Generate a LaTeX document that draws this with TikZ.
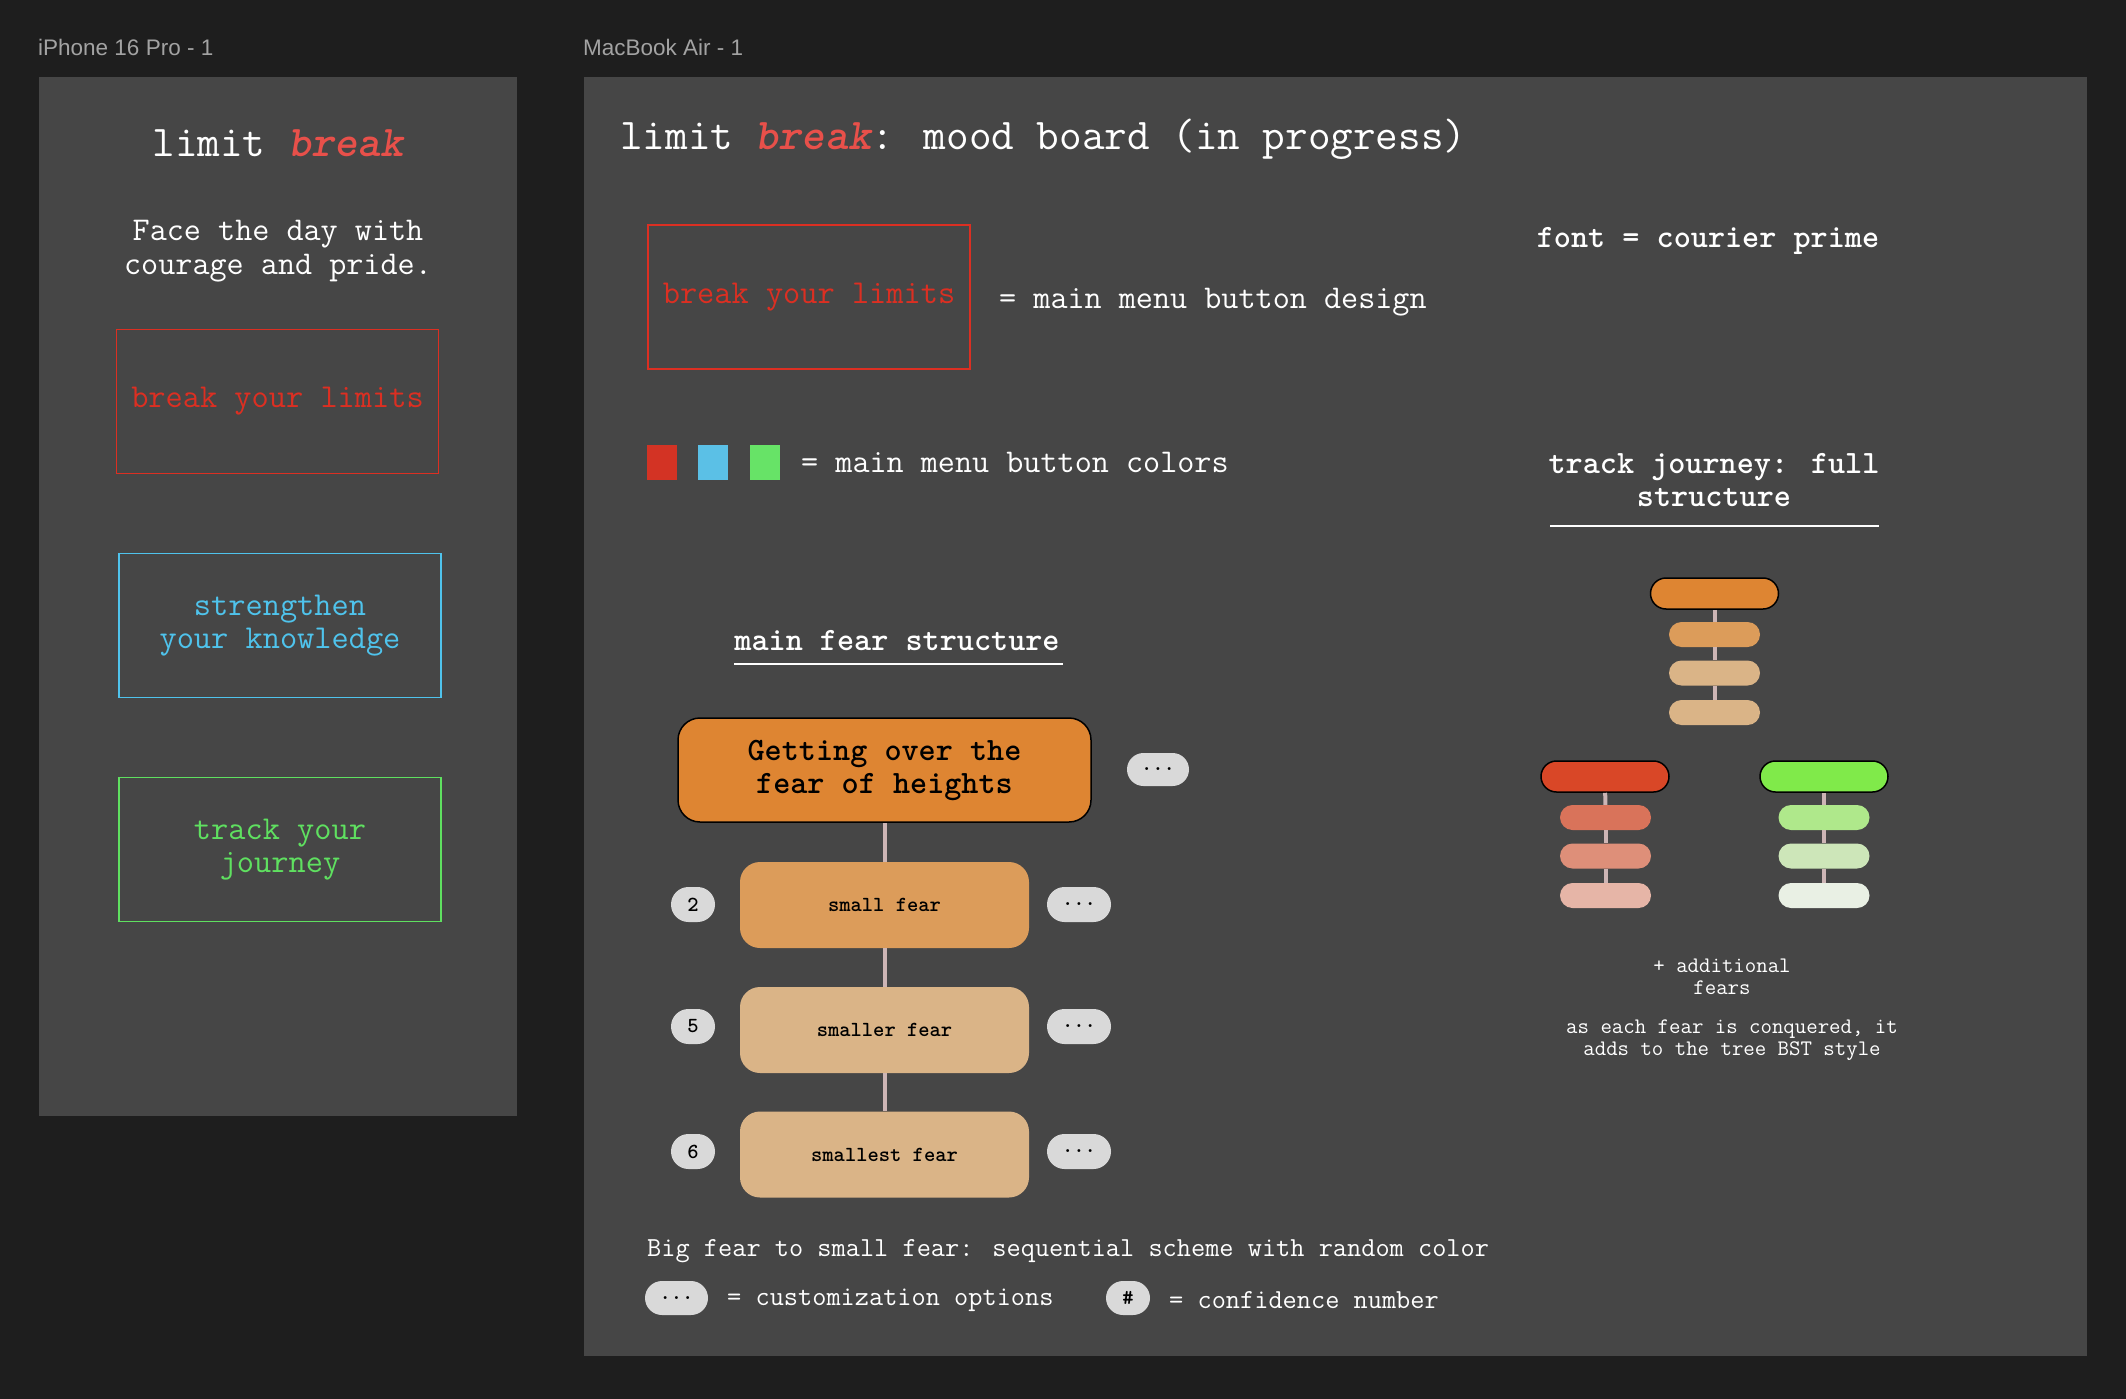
\documentclass[tikz,border=0pt]{standalone}
\usepackage{fontspec}
\newfontfamily\uifont{Liberation Sans}
\newfontfamily\breakfont{lmmonolt10-boldoblique.otf}
\renewcommand{\familydefault}{\ttdefault}
\usetikzlibrary{positioning,shapes.misc}

\definecolor{canvas}{HTML}{1E1E1E}
\definecolor{board}{HTML}{464646}
\definecolor{labelgray}{HTML}{A3A3A3}
\definecolor{breakred}{HTML}{E8504A}
\definecolor{btnred}{HTML}{DC2F22}
\definecolor{btnblue}{HTML}{4FC3EC}
\definecolor{btngreen}{HTML}{5FE060}
\definecolor{swatchred}{HTML}{D33324}
\definecolor{swatchblue}{HTML}{5BC0E6}
\definecolor{swatchgreen}{HTML}{67E367}
\definecolor{fearA}{HTML}{DE8532}
\definecolor{fearB}{HTML}{DC9C5A}
\definecolor{fearC}{HTML}{DAB487}
\definecolor{pillgray}{HTML}{D9D9D9}
\definecolor{linkpink}{HTML}{CDB5B5}
\definecolor{redA}{HTML}{D94727}
\definecolor{redB}{HTML}{D9735A}
\definecolor{redC}{HTML}{DE8F79}
\definecolor{redD}{HTML}{E6B5A7}
\definecolor{greenA}{HTML}{80EA4A}
\definecolor{greenB}{HTML}{AFE88B}
\definecolor{greenC}{HTML}{CDE6B9}
\definecolor{greenD}{HTML}{E9F0E4}

\newcommand{\breakword}{\textcolor{breakred}{\breakfont break}}

\begin{document}
\begin{tikzpicture}[x=1pt,y=-1pt,
    every node/.style={inner sep=0pt,text=white},
    bigtext/.style={font=\fontsize{43.9}{52}\selectfont},
    bodytext/.style={font=\fontsize{33.2}{33.5}\selectfont,align=center},
    boldtext/.style={font=\bfseries\fontsize{32.6}{33}\selectfont,align=center},
    smalltext/.style={font=\fontsize{22.2}{22}\selectfont,align=center},
    notetext/.style={font=\fontsize{27.55}{30}\selectfont},
    framelabel/.style={font=\uifont\fontsize{22.5}{26}\selectfont,text=labelgray,anchor=west},
    menubtn/.style={draw=#1,text=#1,line width=1.5pt,minimum width=322pt,minimum height=144pt,
                    font=\fontsize{33.4}{33.5}\selectfont,align=center},
    swatch/.style={fill=#1,minimum width=30pt,minimum height=35pt},
    fearbox/.style={fill=#1,text=black,rounded corners=20pt,minimum width=289pt,minimum height=86pt,
                    font=\bfseries\fontsize{21.5}{22}\selectfont},
    pill/.style={rounded rectangle,fill=pillgray,text=black,minimum width=#1,minimum height=35pt,
                 font=\bfseries\fontsize{21.5}{22}\selectfont},
    treetop/.style={rounded rectangle,fill=#1,draw=black,line width=1.5pt,minimum width=128pt,minimum height=31pt},
    treekid/.style={rounded rectangle,fill=#1,minimum width=91pt,minimum height=25pt},
    rule/.style={draw=white,line width=2.5pt},
    link/.style={draw=linkpink,line width=4pt}]

\fill[canvas] (0,0) rectangle (2126,1399);
\fill[board] (39,77) rectangle (517,1116);
\fill[board] (584,77) rectangle (2087,1356);

\node[framelabel] (phonelabel) at (38,47) {iPhone 16 Pro - 1};
\node[framelabel] (maclabel) at (583,47) {MacBook Air - 1};

% phone screen
\node[bigtext] (phonetitle) at (278,143) {limit \breakword};
\node[bodytext] (tagline) at (278,251) {Face the day with\\courage and pride.};
\node[menubtn=btnred] (phonered) at (277.5,401.5) {break your limits};
\node[menubtn=btnblue] (phoneblue) at (280,625.5) {strengthen\\your knowledge};
\node[menubtn=btngreen] (phonegreen) at (280,849.5) {track your\\journey};

% mood board
\node[bigtext,anchor=west] (mactitle) at (620,139)
    {limit \breakword: mood board (in progress)};
\node[menubtn=btnred] (macred) at (809,297) {break your limits};
\node[bodytext,anchor=west] (designnote) at (999,302) {= main menu button design};
\node[swatch=swatchred] (swred) at (662,462.5) {};
\node[swatch=swatchblue] (swblue) at (712.5,462.5) {};
\node[swatch=swatchgreen] (swgreen) at (764.5,462.5) {};
\node[bodytext,anchor=west] (colornote) at (801,462) {= main menu button colors};
\node[boldtext] (fontnote) at (1708,241) {font = courier prime};

\node[boldtext] (mfs) at (897,641) {main fear structure};
\coordinate (mfsL) at (734,664);
\coordinate (mfsR) at (1063,664);
\draw[rule] (mfsL) -- (mfsR);

\node[fearbox=fearA,draw=black,line width=1.5pt,rounded corners=22pt,minimum width=413pt,minimum height=104pt,
      font=\bfseries\fontsize{32.6}{33}\selectfont,align=center] (mainfear) at (884.5,770)
    {Getting over the\\fear of heights};
\node[fearbox=fearB] (small) at (884.5,905) {small fear};
\node[fearbox=fearC] (smaller) at (884.5,1030) {smaller fear};
\node[fearbox=fearC] (smallest) at (884.5,1154.5) {smallest fear};
\path[link] (mainfear) edge (small)
            (small) edge (smaller)
            (smaller) edge (smallest);

\node[pill=62pt,minimum height=33pt] (maindots) at (1158,769.5) {...};
\node[pill=44pt] (conf2) at (693,904.5) {2};
\node[pill=64pt] (dots2) at (1079,904.5) {...};
\node[pill=44pt] (conf5) at (693,1026.5) {5};
\node[pill=64pt] (dots5) at (1079,1026.5) {...};
\node[pill=44pt] (conf6) at (693,1151.5) {6};
\node[pill=64pt] (dots6) at (1079,1151.5) {...};

\node[notetext,anchor=west] (scheme) at (647,1251)
    {Big fear to small fear: sequential scheme with random color};
\node[pill=63pt,minimum height=34pt] (legdots) at (676.5,1298) {...};
\node[notetext,anchor=west] (legdotsnote) at (727,1300) {= customization options};
\node[pill=44pt,minimum height=34pt] (leghash) at (1128,1298) {\#};
\node[notetext,anchor=west] (leghashnote) at (1169,1300) {= confidence number};

% journey tree
\node[boldtext] (journey) at (1714,480) {track journey: full\\structure};
\coordinate (jrL) at (1550,526);
\coordinate (jrR) at (1879,526);
\draw[rule] (jrL) -- (jrR);

\node[treetop=fearA] (oTop) at (1714.5,593.5) {};
\node[treekid=fearB] (oA) at (1714.5,634.5) {};
\node[treekid=fearC] (oB) at (1714.5,673) {};
\node[treekid=fearC] (oC) at (1714.5,712.5) {};

\node[treetop=redA] (rTop) at (1605,776.5) {};
\node[treekid=redB] (rA) at (1605.5,817.5) {};
\node[treekid=redC] (rB) at (1605.5,856) {};
\node[treekid=redD] (rC) at (1605.5,895.5) {};

\node[treetop=greenA] (gTop) at (1824,776.5) {};
\node[treekid=greenB] (gA) at (1824,817.5) {};
\node[treekid=greenC] (gB) at (1824,856) {};
\node[treekid=greenD] (gC) at (1824,895.5) {};

\path[link] (oTop) edge (oA) (oA) edge (oB) (oB) edge (oC)
            (rTop) edge (rA) (rA) edge (rB) (rB) edge (rC)
            (gTop) edge (gA) (gA) edge (gB) (gB) edge (gC);

\node[smalltext] (morefears) at (1722,977) {+ additional\\fears};
\node[smalltext] (bstnote) at (1732,1040) {as each fear is conquered, it\\adds to the tree BST style};

\end{tikzpicture}
\end{document}
